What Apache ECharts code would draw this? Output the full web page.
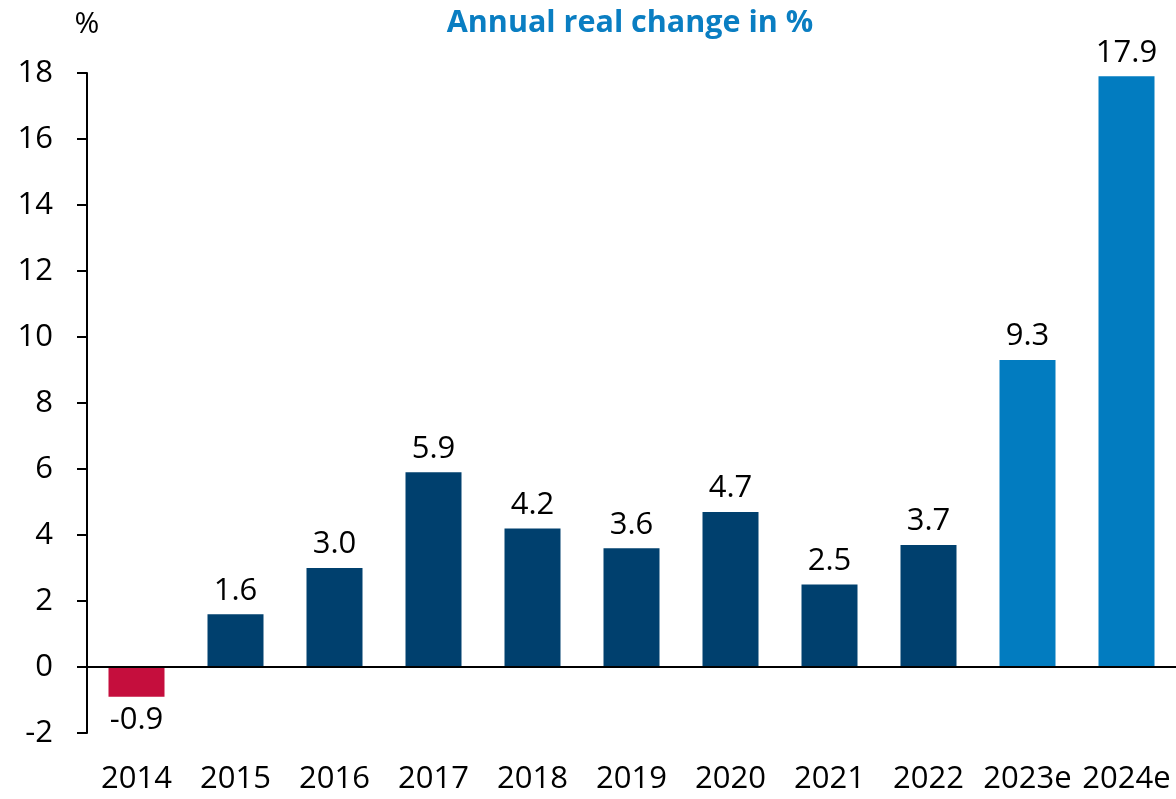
<!DOCTYPE html>
<html>
<head>
<meta charset="utf-8">
<script src="https://cdn.jsdelivr.net/npm/echarts@6/dist/echarts.min.js"></script>
<style>
	html, body { margin: 0; padding: 0; background: #fff; }
	#main { width: 1176px; height: 799px; }
</style>
</head>
<body>
<div id="main"></div>
<script>
var years = ['2014', '2015', '2016', '2017', '2018', '2019', '2020', '2021', '2022', '2023e', '2024e'];
var values = [-0.9, 1.6, 3.0, 5.9, 4.2, 3.6, 4.7, 2.5, 3.7, 9.3, 17.9];
var yTicks = [-2, 0, 2, 4, 6, 8, 10, 12, 14, 16, 18];

var FONT = 'Open Sans';
var myChart = echarts.init(document.getElementById('main'));

// colour: negative -> red, estimates -> light blue, others -> navy
function barColor(i) {
	if (values[i] < 0) return '#C50E3D';
	if (/e$/.test(years[i])) return '#027CC0';
	return '#00406E';
}

var barData = values.map(function(v, i) {
	return {
		value: v,
		itemStyle: { color: barColor(i) },
		label: { position: v < 0 ? 'bottom' : 'top' }
	};
});

option = {
	animation: false,
	title: {
		text: 'Annual real change in %',
		left: 625,
		textAlign: 'center',
		top: 3,
		textStyle: {
			fontFamily: FONT,
			fontSize: 30.5,
			fontWeight: 'bold',
			color: '#0A7EC2'
		}
	},
	grid: {
		left: 87,
		right: 0,
		top: 73,
		bottom: 66
	},
	xAxis: {
		type: 'category',
		data: years,
		axisLine: { show: false, onZero: false },
		axisTick: { show: false },
		axisLabel: {
			interval: 0,
			hideOverlap: false,
			margin: 31,
			fontFamily: FONT,
			fontSize: 31,
			color: '#000'
		}
	},
	yAxis: {
		type: 'value',
		min: yTicks[0],
		max: yTicks[yTicks.length - 1],
		interval: 2,
		name: '%',
		nameLocation: 'end',
		nameGap: 34,
		nameTextStyle: {
			fontFamily: FONT,
			fontSize: 30,
			color: '#000',
			align: 'center'
		},
		splitLine: { show: false },
		axisLine: { show: true, lineStyle: { color: '#000', width: 2 } },
		axisTick: { show: true, length: 10, lineStyle: { color: '#000', width: 2 } },
		axisLabel: {
			margin: 34,
			fontFamily: FONT,
			fontSize: 31,
			color: '#000'
		}
	},
	series: [{
		type: 'bar',
		data: barData,
		barWidth: 56,
		label: {
			show: true,
			distance: 8,
			fontFamily: FONT,
			fontSize: 31,
			color: '#000',
			formatter: function(p) { return p.value.toFixed(1); }
		},
		markLine: {
			silent: true,
			symbol: 'none',
			label: { show: false },
			lineStyle: { color: '#000', width: 2, type: 'solid' },
			data: [{ yAxis: 0 }]
		}
	}]
};

myChart.setOption(option);
</script>
</body>
</html>
